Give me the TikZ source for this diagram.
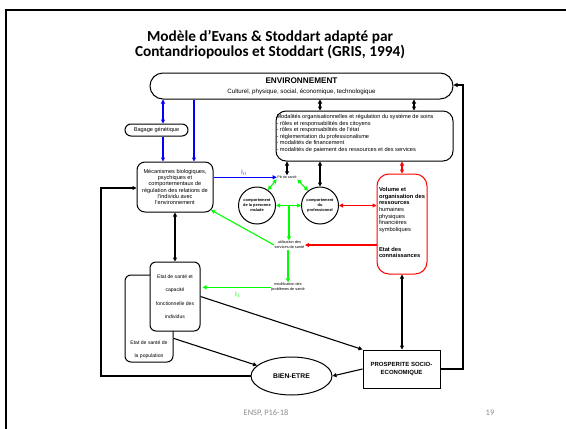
\documentclass[tikz,border=0pt]{standalone}
\usepackage{fontspec}
\setmainfont{Liberation Sans}
\newfontfamily\calibri{Carlito}
\usetikzlibrary{arrows.meta,shapes.geometric}

\definecolor{pblue}{RGB}{0,0,255}
\definecolor{pgreen}{RGB}{0,255,0}
\definecolor{pred}{RGB}{255,0,0}
\definecolor{foot}{RGB}{140,140,140}

\tikzset{
  box/.style={draw, line width=1pt, align=center, inner sep=0.5pt},
  circ/.style={draw, circle, line width=1pt, minimum size=37pt, inner sep=0pt,
    align=center, font=\fontsize{3.9}{4.9}\selectfont\bfseries},
  tiny/.style={inner sep=0.5pt, align=center, font=\fontsize{3.8}{5}\selectfont},
  conn/.style={line width=1.1pt},
  bconn/.style={conn, draw=pblue},
  gconn/.style={conn, draw=pgreen},
  rconn/.style={conn, draw=pred},
  lab/.style={inner sep=0.5pt, font=\fontsize{6.5}{7}\selectfont},
}

\begin{document}
\begin{tikzpicture}[x=1pt, y=-1pt, >={Triangle[length=4pt,width=4pt]}]
\useasboundingbox (0,0) rectangle (566,429);

% slide frame
\draw[line width=2pt] (6,429) -- (6,10) -- (566,10);

% title
\node[font=\calibri\fontsize{15.3}{15.5}\selectfont\bfseries, align=center] (title) at (270,44.5)
  {Modèle d’Evans \& Stoddart adapté par\\ Contandriopoulos et Stoddart (GRIS, 1994)};

% main boxes
\node[box, rounded corners=13pt, minimum width=303pt, minimum height=26pt] (env) at (301.5,86)
  {{\fontsize{8.2}{9}\selectfont\bfseries ENVIRONNEMENT}\\[-1.8pt]
   {\fontsize{6.2}{7}\selectfont Culturel, physique, social, économique, technologique}};

\node[box, rounded corners=6pt, minimum width=63pt, minimum height=12pt,
  font=\fontsize{5.6}{6.5}\selectfont] (bag) at (156.5,130) {Bagage génétique};

\node[box, rounded corners=10pt, minimum width=177pt, minimum height=50pt] (modal) at (364.5,136) {};
\node[anchor=north west, inner sep=0pt, align=left, font=\fontsize{5.65}{6.5}\selectfont] (modaltxt)
  at (276.3,114.3)
  {Modalités organisationnelles et régulation du système de soins\\
   - rôles et responsabilités des citoyens\\
   - rôles et responsabilités de l'état\\
   - réglementation du professionalisme\\
   - modalités de financement\\
   - modalités de paiement des ressources et des services};

\node[box, rounded corners=8pt, minimum width=76pt, minimum height=50pt,
  font=\fontsize{5.6}{6.3}\selectfont] (mech) at (175,187)
  {Mécanismes biologiques,\\ psychiques et\\ comportementaux de\\ régulation des relations de\\ l'individu avec\\ l'environnement};

\node[tiny, font=\fontsize{3.6}{4.5}\selectfont] (pb) at (287,177.3) {Pb de santé};

\node[circ] (pm) at (257,205.5) {comportement\\ de la personne\\ malade};
\node[circ] (pr) at (320,205.5) {comportement\\ du\\ professionnel};

\node[box, draw=pred, rounded corners=12pt, minimum width=50pt, minimum height=100pt] (red) at (402,224) {};
\node[anchor=north west, inner sep=0pt, align=left, font=\fontsize{5.75}{6.6}\selectfont] (redtxt)
  at (378.8,187.3)
  {\textbf{Volume et}\\ \textbf{organisation des}\\ \textbf{ressources}\\ humaines\\ physiques\\ financières\\ symboliques\\[13.2pt]
   \textbf{Etat des}\\ \textbf{connaissances}};

\node[tiny] (util) at (289.5,245) {utilisation des\\ services de santé};
\node[tiny] (modif) at (288,287.3) {modification des\\ problèmes de santé};

% population and individual health
\node[box, rounded corners=6pt, minimum width=48pt, minimum height=87pt] (pop) at (149,318.5) {};
\node[align=center, inner sep=0pt, font=\fontsize{5.1}{13.5}\selectfont] (poptxt) at (149,349.5)
  {Etat de santé de\\ la population};
\node[box, fill=white, rounded corners=6pt, minimum width=50pt, minimum height=69pt,
  font=\fontsize{5.1}{13.5}\selectfont] (etat) at (175,296.5)
  {Etat de santé et\\ capacité\\ fonctionnelle des\\ individus};

\node[draw, ellipse, line width=1pt, minimum width=81pt, minimum height=38pt, inner sep=0pt,
  font=\fontsize{6.8}{8}\selectfont\bfseries] (bien) at (291.5,376) {BIEN-ETRE};

\node[draw, line width=1pt, minimum width=77pt, minimum height=38pt, inner sep=0pt, align=center,
  font=\fontsize{6}{8.8}\selectfont\bfseries] (prosp) at (401.5,369)
  {PROSPERITE SOCIO-\\ ECONOMIQUE};

% helper positions for connectors
\coordinate (xa) at (163,0);
\coordinate (xb) at (194,0);
\coordinate (xc) at (320,0);
\coordinate (xd) at (414,0);
\coordinate (xr) at (463,85);
\coordinate (xl) at (101,188);
\coordinate (gm) at (289,205.5);

% blue links
\draw[bconn, <->] (env.south -| xa) -- (bag.north -| xa);
\draw[bconn, ->] (bag.south -| xa) -- (mech.north -| xa);
\draw[bconn, ->] (env.south -| xb) -- (mech.north -| xb);
\draw[bconn, ->] (mech.east |- pb.west) -- (pb.west);
\node[lab, text=pblue!70] (i0) at (244,172.5) {I$_0$};

% black links from the environment and the care system
\draw[conn, <->] (env.south -| xc) -- (modal.north -| xc);
\draw[conn, <->] (env.south -| xd) -- (modal.north -| xd);
\draw[conn, <->] (modal.south -| pb.north) -- (pb.north);
\draw[conn, <->] (modal.south -| pr.north) -- (pr.north);
\draw[rconn, <->] (modal.south -| red.north) -- (red.north);

% green links
\draw[gconn, <->] (pb.south west) -- (pm.55);
\draw[gconn, <->] (pb.south east) -- (pr.129);
\draw[gconn, <->] (pm.east) -- (pr.west);
\draw[gconn, ->] (gm) -- (util.north -| gm);
\draw[gconn, ->] (util.south -| modif.north) -- (modif.north);
\draw[gconn, ->] (util.west) -- ([shift={(-2.5,-2.5)}]mech.south east);
\draw[gconn, ->] (modif.west) -- ([xshift=2pt]etat.east |- modif.west);
\node[lab, text=pgreen] (i1) at (238,295) {I$_1$};

% red links
\draw[rconn, ->] (red.west |- util.east) -- (util.east);
\draw[rconn, <->] (pr.east) -- (red.west |- pr.east);

% health, well-being and prosperity
\draw[conn, <->] (mech.south) -- (etat.north);
\draw[conn, ->] (pop.-39) -- (bien.163);
\draw[conn, ->] (etat.east) -- (prosp.north west);
\draw[conn, <->] (red.south) -- (red.south |- prosp.north);
\draw[conn, ->] (prosp.west) -- (bien.east);
\draw[conn, ->] (prosp.east) -| (xr) -- (env.east |- xr);
\draw[conn, ->] (bien.west) -| (xl) -- (mech.west |- xl);

% footer
\node[font=\calibri\fontsize{8.4}{9}\selectfont, text=foot] (footl) at (266,413) {ENSP, P16-18};
\node[font=\calibri\fontsize{8.4}{9}\selectfont, text=foot] (footr) at (490,413) {19};
\end{tikzpicture}
\end{document}
